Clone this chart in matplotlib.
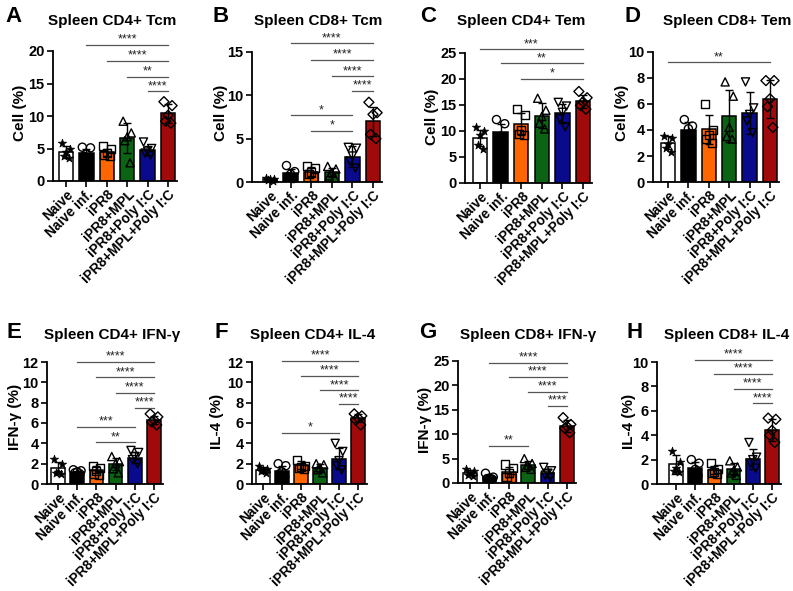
import numpy as np
import matplotlib
matplotlib.use("Agg")
import matplotlib.pyplot as plt

plt.rcParams['font.family'] = ['Liberation Sans', 'DejaVu Sans']
plt.rcParams['font.weight'] = 'bold'

groups = ["Naive", "Naive inf.", "iPR8", "iPR8+MPL", "iPR8+Poly I:C", "iPR8+MPL+Poly I:C"]
colors = ["#FFFFFF", "#000000", "#FF6600", "#0A6414", "#0A0A8C", "#A00A0A"]
markers = ["*", "o", "s", "^", "v", "D"]

# ---------------- Data ----------------
A_means = [4.5, 4.3, 4.4, 6.6, 4.7, 10.4]
A_sd = [0.9, 0.6, 0.6, 2.3, 0.7, 1.4]
A_pts = [[5.8, 4.9, 4.4, 3.8, 3.6], [5.2, 5.1, 4.2, 3.8, 3.4], [5.4, 4.9, 4.3, 4.0, 3.8],
         [9.2, 7.4, 6.8, 6.2, 2.8], [6.0, 5.0, 4.6, 4.3, 4.0], [12.2, 11.6, 10.1, 9.2, 8.9]]
A_sig = [(1, 5, 20.9, '****'), (2, 5, 18.5, '****'), (3, 5, 16.0, '**'), (4, 5, 13.8, '****')]

B_means = [0.3, 1.0, 1.2, 1.1, 2.9, 7.0]
B_sd = [0.15, 0.5, 0.5, 0.5, 1.2, 1.7]
B_pts = [[0.5, 0.4, 0.3, 0.2, 0.15], [1.9, 1.2, 0.9, 0.6, 0.4], [1.8, 1.6, 1.1, 0.9, 0.6],
         [1.8, 1.5, 1.1, 0.7, 0.5], [4.0, 3.9, 3.0, 2.4, 1.6], [9.2, 8.0, 7.8, 5.5, 5.0]]
B_sig = [(1, 5, 16.0, '****'), (2, 5, 14.1, '****'), (3, 5, 12.2, '****'), (4, 5, 10.5, '****'),
         (1, 4, 7.7, '*'), (2, 4, 5.9, '*')]

C_means = [8.7, 9.8, 11.3, 12.9, 13.4, 15.7]
C_sd = [1.5, 1.6, 2.1, 2.4, 1.8, 1.2]
C_pts = [[10.7, 10.0, 9.3, 7.3, 6.5], [12.2, 11.4, 9.0, 8.5, 8.0], [14.2, 13.0, 10.2, 9.5, 9.3],
         [16.3, 14.0, 12.8, 11.5, 10.4], [15.5, 14.8, 13.6, 12.3, 10.8], [17.6, 16.4, 15.6, 14.9, 14.2]]
C_sig = [(0, 5, 25.7, '***'), (1, 5, 23.0, '**'), (2, 5, 20.0, '*')]

D_means = [3.0, 4.0, 4.05, 5.1, 5.3, 6.4]
D_sd = [0.5, 0.6, 1.1, 2.0, 1.6, 1.45]
D_pts = [[3.5, 3.4, 2.9, 2.6, 2.3], [4.8, 4.3, 4.1, 3.6, 3.3], [6.0, 4.0, 3.6, 3.3, 3.0],
         [7.7, 6.6, 4.2, 3.5, 3.3], [7.7, 5.7, 5.2, 4.7, 3.8], [7.8, 7.8, 6.4, 5.8, 4.2]]
D_sig = [(0, 5, 9.2, '**')]

E_means = [1.6, 1.15, 1.4, 1.95, 2.6, 6.3]
E_sd = [0.6, 0.15, 0.35, 0.6, 0.5, 0.4]
E_pts = [[2.5, 2.0, 1.2, 1.1, 1.0], [1.4, 1.3, 1.2, 1.1, 1.0], [1.8, 1.6, 1.3, 1.0, 0.9],
         [2.7, 2.2, 2.0, 1.5, 1.1], [3.3, 3.1, 2.7, 2.4, 2.0], [6.9, 6.6, 6.3, 6.1, 5.8]]
E_sig = [(1, 5, 12.0, '****'), (2, 5, 10.5, '****'), (3, 5, 9.0, '****'), (4, 5, 7.5, '****'),
         (1, 4, 5.6, '***'), (2, 4, 4.1, '**')]

F_means = [1.4, 1.3, 1.9, 1.6, 2.5, 6.5]
F_sd = [0.3, 0.5, 0.4, 0.4, 1.0, 0.4]
F_pts = [[1.8, 1.5, 1.4, 1.3, 1.1], [2.0, 1.8, 1.2, 1.0, 0.7], [2.4, 1.8, 1.7, 1.6, 1.5],
         [2.0, 1.9, 1.6, 1.4, 1.1], [4.0, 3.2, 2.3, 1.8, 1.4], [6.9, 6.7, 6.5, 6.3, 5.8]]
F_sig = [(1, 5, 12.1, '****'), (2, 5, 10.6, '****'), (3, 5, 9.2, '****'), (4, 5, 7.9, '****'),
         (1, 4, 5.0, '*')]

G_means = [2.1, 1.2, 2.2, 3.7, 2.05, 11.7]
G_sd = [0.5, 0.5, 1.0, 0.8, 0.8, 1.2]
G_pts = [[2.8, 2.5, 2.0, 1.7, 1.5], [2.0, 1.2, 1.0, 0.9, 0.8], [3.8, 3.0, 2.0, 1.3, 1.0],
         [5.0, 4.0, 3.6, 3.2, 2.8], [3.2, 2.5, 2.0, 1.6, 1.2], [13.4, 12.0, 11.6, 11.2, 10.3]]
G_sig = [(1, 5, 24.6, '****'), (2, 5, 21.7, '****'), (3, 5, 18.6, '****'), (4, 5, 15.8, '****'),
         (1, 3, 7.6, '**')]

H_means = [1.6, 1.3, 1.15, 1.2, 2.05, 4.45]
H_sd = [0.8, 0.5, 0.35, 0.5, 0.8, 0.9]
H_pts = [[2.7, 1.8, 1.3, 1.1, 1.0], [2.0, 1.7, 1.2, 0.9, 0.7], [1.7, 1.2, 1.0, 0.9, 0.8],
         [1.9, 1.4, 1.1, 0.9, 0.7], [3.4, 2.2, 2.0, 1.7, 1.3], [5.4, 5.3, 4.4, 4.0, 3.4]]
H_sig = [(1, 5, 10.2, '****'), (2, 5, 9.0, '****'), (3, 5, 7.8, '****'), (4, 5, 6.6, '****')]

titles = ["Spleen CD4+ Tcm", "Spleen CD8+ Tcm", "Spleen CD4+ Tem", "Spleen CD8+ Tem",
          "Spleen CD4+ IFN-γ", "Spleen CD4+ IL-4", "Spleen CD8+ IFN-γ", "Spleen CD8+ IL-4"]
letters = ["A", "B", "C", "D", "E", "F", "G", "H"]
ylabels = ["Cell (%)", "Cell (%)", "Cell (%)", "Cell (%)",
           "IFN-γ (%)", "IL-4 (%)", "IFN-γ (%)", "IL-4 (%)"]
ymax = [20, 15, 25, 10, 12, 12, 25, 10]
ystep = [5, 5, 5, 2, 2, 2, 5, 2]

means_all = [A_means, B_means, C_means, D_means, E_means, F_means, G_means, H_means]
sd_all = [A_sd, B_sd, C_sd, D_sd, E_sd, F_sd, G_sd, H_sd]
pts_all = [A_pts, B_pts, C_pts, D_pts, E_pts, F_pts, G_pts, H_pts]
sig_all = [A_sig, B_sig, C_sig, D_sig, E_sig, F_sig, G_sig, H_sig]

# ---------------- Layout (pixels) ----------------
W, H = 793, 591
# (y-axis x, first bar x, last bar x, top y, bottom y)
layout = [(53, 66, 168, 51, 181), (252, 270, 373, 52, 182), (465, 480, 583, 53, 183),
          (653, 668, 770, 52, 182), (47, 58, 154, 362, 484), (252, 263, 358, 362, 484),
          (458, 470, 567, 361, 483), (657, 676, 772, 362, 484)]
title_pos = [(112, 25), (318, 25), (521, 25), (727, 25), (112, 339), (313, 339), (528, 339), (727, 339)]
letter_pos = [(5, 22), (212, 22), (420, 22), (625, 22), (6, 338), (215, 338), (419, 338), (627, 338)]
ylab_pos = [(20, 113), (221, 113), (432, 117), (622, 113), (15, 417), (217, 421), (425, 420), (629, 421)]
jitter = [-0.2, 0.2, 0.0, -0.12, 0.14]

fig = plt.figure(figsize=(W / 100, H / 100), dpi=100)

for k in range(8):
    yax, x0, x5, top, bot = layout[k]
    s = (x5 - x0) / 5
    left_lim = -(x0 - yax) / s
    right_extra = 0.45
    right_px = x5 + right_extra * s
    ax = fig.add_axes([yax / W, 1 - bot / H, (right_px - yax) / W, (bot - top) / H])
    ax.set_xlim(left_lim, 5 + right_extra)
    ax.set_ylim(0, ymax[k])
    xs = np.arange(6)
    ax.bar(xs, means_all[k], width=0.7, color=colors, edgecolor='black', linewidth=1.1, zorder=2)
    for i in range(6):
        pts = pts_all[k][i]
        px = [i + jitter[j % len(jitter)] for j in range(len(pts))]
        if markers[i] == '*':
            ax.scatter(px, pts, marker='*', s=40, facecolor='black', edgecolor='black',
                       linewidth=0.5, zorder=3, clip_on=False)
        else:
            ms = 26 if markers[i] == 'D' else 34
            ax.scatter(px, pts, marker=markers[i], s=ms, facecolor='none', edgecolor='black',
                       linewidth=1.0, zorder=3, clip_on=False)
    ax.errorbar(xs, means_all[k], yerr=sd_all[k], fmt='none', ecolor='black',
                elinewidth=1.0, capsize=3, capthick=1.0, zorder=4)
    for (i, j, yv, lab) in sig_all[k]:
        ax.plot([i, j], [yv, yv], color='#555555', lw=0.9, clip_on=False, zorder=5)
        ax.annotate(lab, xy=((i + j) / 2, yv), xytext=(0, -0.5), textcoords='offset points',
                    ha='center', va='bottom', fontsize=9, fontweight='normal', color='#222222',
                    annotation_clip=False)
    ax.spines['top'].set_visible(False)
    ax.spines['right'].set_visible(False)
    ax.spines['left'].set_linewidth(1.3)
    ax.spines['bottom'].set_linewidth(1.3)
    ax.set_yticks(np.arange(0, ymax[k] + 0.01, ystep[k]))
    ax.set_xticks(xs)
    ax.set_xticklabels(groups, rotation=45, ha='right', rotation_mode='anchor',
                       fontsize=9.8, fontweight='bold')
    ax.tick_params(axis='both', direction='out', length=4, width=1.2, pad=2)
    ax.tick_params(axis='x', pad=0.5)
    ax.tick_params(axis='y', labelsize=10.5)
    for lbl in ax.get_yticklabels():
        lbl.set_fontweight('bold')
    tx, ty = title_pos[k]
    fig.text(tx / W, 1 - ty / H, titles[k], ha='center', va='baseline', fontsize=11,
             fontweight='bold')
    lx, ly = letter_pos[k]
    fig.text(lx / W, 1 - ly / H, letters[k], ha='left', va='baseline', fontsize=16,
             fontweight='bold')
    yx, yy = ylab_pos[k]
    fig.text(yx / W, 1 - yy / H, ylabels[k], ha='center', va='center', rotation=90,
             fontsize=11, fontweight='bold')

fig.savefig("out.png", dpi=100)
